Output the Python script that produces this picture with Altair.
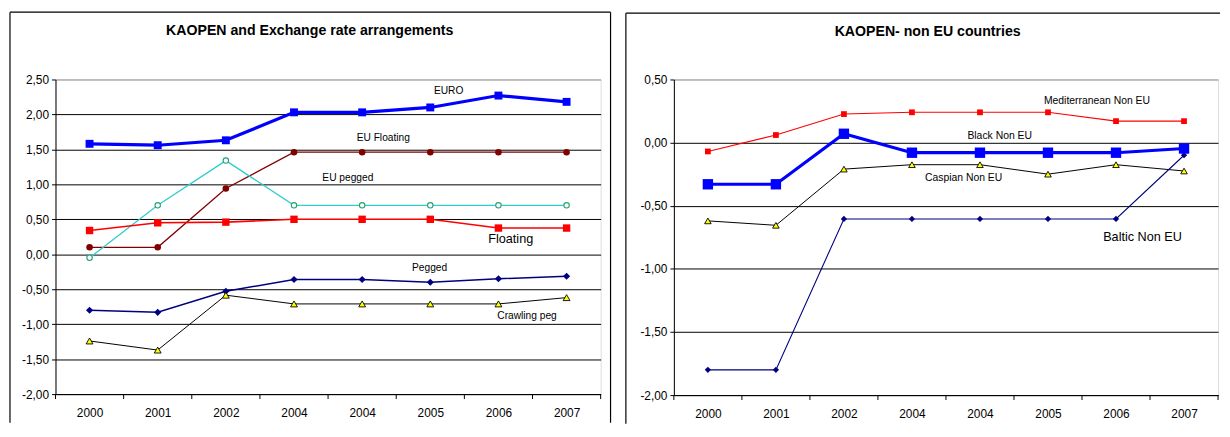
import json
import altair as alt
import pandas as pd

# ---------------- data ----------------
years = ["2000", "2001", "2002", "2004", "2004", "2005", "2006", "2007"]

# Left panel: KAOPEN and Exchange rate arrangements
euro = [1.58, 1.56, 1.63, 2.03, 2.03, 2.10, 2.27, 2.18]
eu_floating = [0.10, 0.10, 0.94, 1.46, 1.46, 1.46, 1.46, 1.46]
eu_pegged = [-0.05, 0.70, 1.34, 0.70, 0.70, 0.70, 0.70, 0.70]
floating = [0.34, 0.45, 0.46, 0.50, 0.50, 0.50, 0.375, 0.375]
pegged = [-0.80, -0.83, -0.53, -0.36, -0.36, -0.40, -0.35, -0.315]
crawling_peg = [-1.24, -1.37, -0.585, -0.71, -0.71, -0.71, -0.71, -0.62]

# Right panel: KAOPEN- non EU countries
mediterranean_non_eu = [-0.07, 0.06, 0.226, 0.24, 0.24, 0.24, 0.17, 0.17]
black_non_eu = [-0.33, -0.33, 0.07, -0.08, -0.08, -0.08, -0.08, -0.047]
caspian_non_eu = [-0.62, -0.655, -0.21, -0.175, -0.175, -0.25, -0.175, -0.225]
baltic_non_eu = [-1.80, -1.80, -0.605, -0.605, -0.605, -0.605, -0.605, -0.10]

left_ticks = [-2.0, -1.5, -1.0, -0.5, 0.0, 0.5, 1.0, 1.5, 2.0, 2.5]
right_ticks = [-2.0, -1.5, -1.0, -0.5, 0.0, 0.5]

# annotation labels (text, category position, value position, font size)
left_labels = ["EURO", "EU Floating", "EU pegged", "Floating", "Pegged", "Crawling peg"]
left_label_x = [5.27, 4.31, 3.79, 6.18, 4.99, 6.42]
left_label_y = [2.34, 1.66, 1.09, 0.22, -0.19, -0.89]
left_label_size = [10.3, 10.3, 10.3, 12.8, 10.3, 10.3]

right_labels = ["Mediterranean Non EU", "Black Non EU", "Caspian Non EU", "Baltic Non EU"]
right_label_x = [5.72, 4.29, 3.76, 6.39]
right_label_y = [0.33, 0.05, -0.28, -0.745]
right_label_size = [10.5, 10.5, 10.5, 12.8]

FONT = "Liberation Sans"

left_series = [
    (euro, dict(line="#0000FF", lw=3.2, shape="square", size=64, fill="#0000FF", stroke="#0000FF", sw=0)),
    (eu_floating, dict(line="#800000", lw=1.3, shape="circle", size=44, fill="#800000", stroke="#800000", sw=0)),
    (eu_pegged, dict(line="#33CCCC", lw=1.3, shape="circle", size=30, fill="#FFFFFF", stroke="#22A070", sw=1.1)),
    (floating, dict(line="#FF0000", lw=1.6, shape="square", size=56, fill="#FF0000", stroke="#FF0000", sw=0)),
    (pegged, dict(line="#000080", lw=1.5, shape="diamond", size=52, fill="#000080", stroke="#000080", sw=0)),
    (crawling_peg, dict(line="#000000", lw=1.0, shape="triangle-up", size=48, fill="#FFFF00", stroke="#000000", sw=0.9)),
]
right_series = [
    (mediterranean_non_eu, dict(line="#FF0000", lw=1.1, shape="square", size=34, fill="#FF0000", stroke="#FF0000", sw=0)),
    (caspian_non_eu, dict(line="#000000", lw=1.0, shape="triangle-up", size=44, fill="#FFFF00", stroke="#000000", sw=0.9)),
    (baltic_non_eu, dict(line="#000080", lw=1.1, shape="diamond", size=40, fill="#000080", stroke="#000080", sw=0)),
    (black_non_eu, dict(line="#0000FF", lw=3.2, shape="square", size=110, fill="#0000FF", stroke="#0000FF", sw=0)),
]

n = len(years)
year_expr = json.dumps(years) + "[datum.value]"
y_label_expr = "(datum.value < 0 ? '-' : '') + replace(format(abs(datum.value), '.2f'), '.', ',')"


def panel(series, ydom, yticks, title, labels, lx, ly, lsize, w, h, frame_left, frame_top, frame_right,
          title_x, draw_right):
    xscale = alt.Scale(domain=[-0.5, n - 0.5], nice=False, zero=False)
    yscale = alt.Scale(domain=ydom, nice=False, zero=False)
    xaxis = alt.Axis(values=list(range(n)), labelExpr=year_expr, ticks=False, grid=False,
                     domainColor="#000000", domainWidth=1, labelFont=FONT, labelFontSize=12,
                     labelColor="#000000", labelPadding=14, labelOverlap=False, labelFlush=False,
                     title=None)
    yaxis = alt.Axis(values=yticks, labelExpr=y_label_expr, grid=True,
                     gridColor={"condition": {"test": "datum.value >= %s" % ydom[1], "value": "#909090"},
                                "value": "#000000"},
                     gridWidth=1, gridOpacity=1, tickColor="#000000", tickSize=4, ticks=True,
                     domainColor="#000000", labelFont=FONT, labelFontSize=12, labelColor="#000000",
                     labelPadding=3, labelFlush=False, title=None)

    def X(field):
        return alt.X(field, type="quantitative", scale=xscale, axis=xaxis)

    def Y(field):
        return alt.Y(field, type="quantitative", scale=yscale, axis=yaxis)

    layers = []
    for vals, st in series:
        df = pd.DataFrame({"i": list(range(n)), "v": vals})
        base = alt.Chart(df)
        layers.append(base.mark_line(color=st["line"], strokeWidth=st["lw"]).encode(x=X("i"), y=Y("v")))
        layers.append(base.mark_point(shape=st["shape"], size=st["size"], filled=True, fill=st["fill"],
                                      stroke=st["stroke"], strokeWidth=st["sw"], opacity=1, fillOpacity=1)
                      .encode(x=X("i"), y=Y("v")))

    # category tick marks between categories
    bdf = pd.DataFrame({"b": [k - 0.5 for k in range(n + 1)]})
    layers.append(alt.Chart(bdf).mark_rule(color="#000000", strokeWidth=1)
                  .encode(x=X("b"), y=alt.value(h), y2=alt.value(h + 5)))

    # annotations
    adf = pd.DataFrame({"t": labels, "ax": lx, "ay": ly, "s": lsize})
    layers.append(alt.Chart(adf).mark_text(font=FONT, color="#000000", align="center", baseline="middle")
                  .encode(x=X("ax"), y=Y("ay"), text="t:N", size=alt.Size("s:Q", scale=None, legend=None)))

    one = pd.DataFrame({"t": [title]})
    layers.append(alt.Chart(one).mark_text(font=FONT, fontSize=14.3, fontWeight="bold", color="#000000",
                                           align="center", baseline="middle")
                  .encode(text="t:N", x=alt.value(title_x), y=alt.value(frame_top + 19)))

    # chart-area frame (left, top, right)
    bottom = h + 29
    layers.append(alt.Chart(one).mark_rule(color="#000000", strokeWidth=1.2)
                  .encode(x=alt.value(frame_left), y=alt.value(frame_top), y2=alt.value(bottom)))
    layers.append(alt.Chart(one).mark_rule(color="#000000", strokeWidth=1.2)
                  .encode(x=alt.value(frame_left), x2=alt.value(frame_right), y=alt.value(frame_top)))
    if draw_right:
        layers.append(alt.Chart(one).mark_rule(color="#000000", strokeWidth=1.2)
                      .encode(x=alt.value(frame_right), y=alt.value(frame_top), y2=alt.value(bottom)))
    return alt.layer(*layers).properties(width=w, height=h)


left = panel(left_series, [-2.0, 2.5], left_ticks, "KAOPEN and Exchange rate arrangements",
             left_labels, left_label_x, left_label_y, left_label_size,
             551, 318, -46, -68, 561, 257, True)

right = panel(right_series, [-2.0, 0.5], right_ticks, "KAOPEN- non EU countries",
              right_labels, right_label_x, right_label_y, right_label_size,
              550, 319, -48.5, -67, 552, 256.5, False)

chart = alt.hconcat(left, right, spacing=12).properties(padding=0).configure_view(
    stroke="#909090", strokeWidth=1
).configure(background="#FFFFFF")

chart.save("out.html", embed_options={"renderer": "svg", "actions": False})
